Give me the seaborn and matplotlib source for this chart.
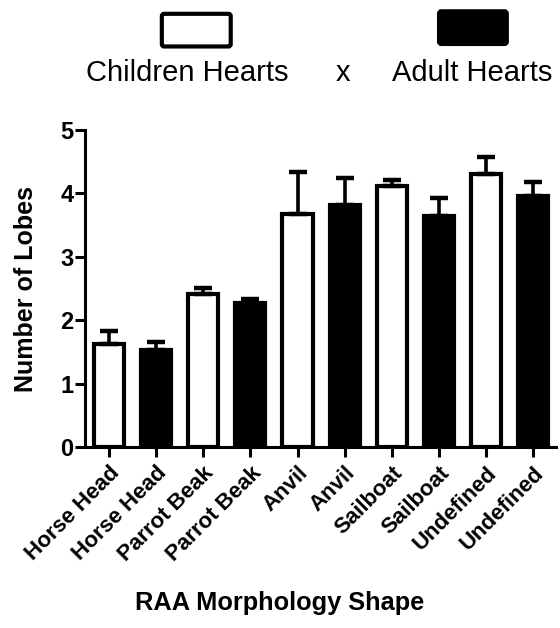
import matplotlib
matplotlib.use("Agg")
import matplotlib.pyplot as plt
from matplotlib.patches import FancyBboxPatch
import seaborn as sns
import pandas as pd
import numpy as np

categories = ["Horse Head", "Horse Head", "Parrot Beak", "Parrot Beak", "Anvil",
              "Anvil", "Sailboat", "Sailboat", "Undefined", "Undefined"]
groups = ["Children Hearts", "Adult Hearts"] * 5
means = [1.62, 1.53, 2.41, 2.28, 3.67, 3.82, 4.12, 3.65, 4.30, 3.96]
errors = [0.21, 0.12, 0.10, 0.06, 0.67, 0.43, 0.09, 0.27, 0.27, 0.22]
yticks = [0, 1, 2, 3, 4, 5]

sns.set_theme(style="ticks")
plt.rcParams["font.family"] = ["Liberation Sans", "DejaVu Sans"]
plt.rcParams.update({"text.color": "black", "axes.labelcolor": "black",
                     "xtick.color": "black", "ytick.color": "black",
                     "axes.edgecolor": "black"})

df = pd.DataFrame({
    "pos": [str(i) for i in range(len(categories))],
    "category": categories,
    "group": groups,
    "mean": means,
    "err": errors,
})

fig = plt.figure(figsize=(5.6, 6.28), dpi=100)
ax = fig.add_axes([0.152, 0.288, 0.841, 0.505])

palette = {"Children Hearts": "white", "Adult Hearts": "black"}
sns.barplot(data=df, x="pos", y="mean", hue="group", palette=palette,
            dodge=False, width=0.64, errorbar=None, legend=False,
            edgecolor="black", linewidth=3.0, ax=ax)

xs = np.arange(len(means))
ax.errorbar(xs, df["mean"], yerr=[np.zeros(len(means)), df["err"]],
            fmt="none", ecolor="black", elinewidth=2.6, capsize=6.5,
            capthick=3.2, zorder=1)
for line in ax.lines:
    line.set_solid_capstyle("round")

ax.set_ylim(0, 5)
ax.set_xlim(-0.51, 9.49)
ax.set_yticks(yticks)
ax.set_yticklabels([str(t) for t in yticks], fontsize=17, fontweight="bold",
                   color="black")
ax.set_xticks(xs)
ax.set_xticklabels(categories, rotation=45, ha="right", rotation_mode="anchor",
                   fontsize=16, fontweight="bold", color="black")
ax.tick_params(axis="both", length=7, width=2.2, color="black")
ax.tick_params(axis="y", pad=1.5)
ax.tick_params(axis="x", pad=4)
for s in ["left", "bottom"]:
    ax.spines[s].set_linewidth(2.2)
    ax.spines[s].set_color("black")
sns.despine(ax=ax)
ax.set_xlabel("")
ax.set_ylabel("Number of Lobes", fontsize=18, fontweight="bold", color="black")
ax.yaxis.set_label_coords(-0.099, 0.5)
fig.text(0.5, 0.0287, "RAA Morphology Shape", ha="center", va="baseline",
         fontsize=18.3, fontweight="bold", color="black")

# legend
fig.patches.append(FancyBboxPatch((0.289, 0.926), 0.123, 0.052,
                                  boxstyle="round,pad=0,rounding_size=0.004",
                                  transform=fig.transFigure, facecolor="white",
                                  edgecolor="black", linewidth=3.0))
fig.patches.append(FancyBboxPatch((0.784, 0.930), 0.121, 0.052,
                                  boxstyle="round,pad=0,rounding_size=0.004",
                                  transform=fig.transFigure, facecolor="black",
                                  edgecolor="black", linewidth=3.0))
fig.text(0.335, 0.871, "Children Hearts", ha="center", va="baseline",
         fontsize=21, color="black")
fig.text(0.6125, 0.871, "x", ha="center", va="baseline", fontsize=21,
         color="black")
fig.text(0.843, 0.871, "Adult Hearts", ha="center", va="baseline",
         fontsize=21, color="black")

fig.savefig("out.png", dpi=100, facecolor="white")
